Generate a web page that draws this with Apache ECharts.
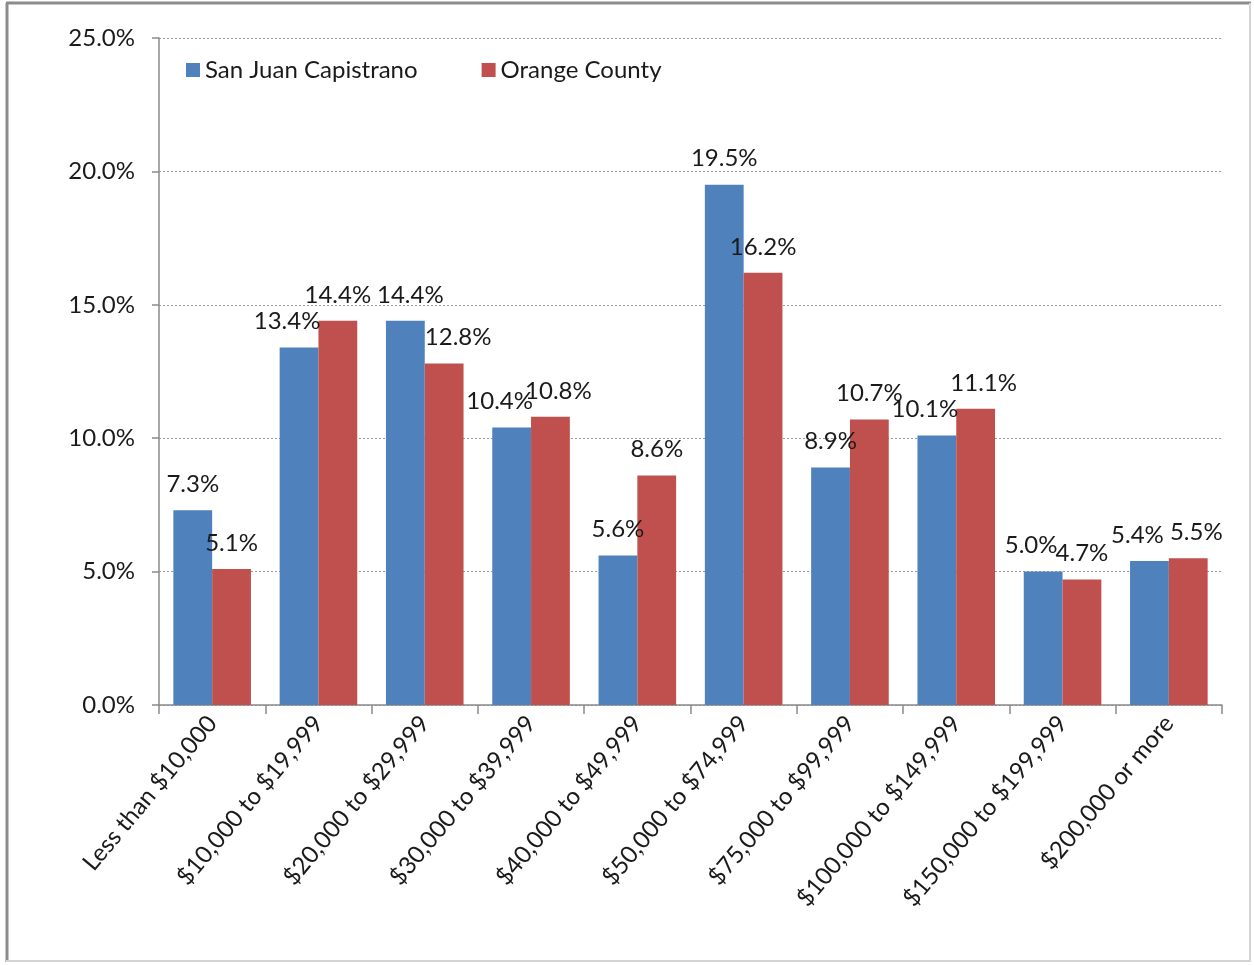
<!DOCTYPE html>
<html>
<head>
<meta charset="utf-8">
<script src="https://cdn.jsdelivr.net/npm/echarts@6/dist/echarts.min.js"></script>
<style>
  html, body { margin: 0; padding: 0; background: #fff; }
  #chart { width: 1254px; height: 965px; }
</style>
</head>
<body>
<div id="chart"></div>
<script>
const categories = ["Less than $10,000", "$10,000 to $19,999", "$20,000 to $29,999", "$30,000 to $39,999", "$40,000 to $49,999", "$50,000 to $74,999", "$75,000 to $99,999", "$100,000 to $149,999", "$150,000 to $199,999", "$200,000 or more"];
const sanJuanCapistrano = [7.3, 13.4, 14.4, 10.4, 5.6, 19.5, 8.9, 10.1, 5.0, 5.4];
const orangeCounty = [5.1, 14.4, 12.8, 10.8, 8.6, 16.2, 10.7, 11.1, 4.7, 5.5];
const seriesNames = ["San Juan Capistrano", "Orange County"];

const FONT = 'Lato, "Liberation Sans", sans-serif';
const FS = 24;
const chart = echarts.init(document.getElementById('chart'), null, { renderer: 'canvas' });

const labelCfg = {
  show: true,
  position: 'top',
  distance: 14,
  fontFamily: FONT,
  fontSize: FS,
  color: '#1a1a1a',
  formatter: p => p.value.toFixed(1) + '%'
};

// Collision-avoidance rule for neighbouring value labels (like Excel's automatic nudging)
const CLOSE = 1.2;
const near = (a, b) => a !== undefined && b !== undefined && Math.abs(a - b) < CLOSE;
function blueShift(i) {
  if (near(sanJuanCapistrano[i], orangeCounty[i])) return -12;
  if (near(orangeCounty[i - 1], sanJuanCapistrano[i])) return 5;
  return 0;
}
function redShift(i) {
  if (near(sanJuanCapistrano[i + 1], orangeCounty[i])) return 0;
  if (near(sanJuanCapistrano[i], orangeCounty[i])) return 8;
  if (blueShift(i) > 0) return 14;
  return 0;
}
function pairLayout(params) {
  const i = params.dataIndex;
  return { dx: params.seriesIndex === 0 ? blueShift(i) : redShift(i) };
}

chart.setOption({
  animation: false,
  backgroundColor: '#ffffff',
  textStyle: { fontFamily: FONT },
  graphic: [
    { type: 'line', shape: { x1: 7, y1: 3, x2: 7, y2: 962 }, style: { stroke: '#8c8c8c', lineWidth: 3 } },
    { type: 'line', shape: { x1: 6, y1: 3, x2: 1251, y2: 3 }, style: { stroke: '#8c8c8c', lineWidth: 3 } },
    { type: 'line', shape: { x1: 1250, y1: 3, x2: 1250, y2: 962 }, style: { stroke: '#d4d4d4', lineWidth: 2 } },
    { type: 'line', shape: { x1: 6, y1: 961, x2: 1251, y2: 961 }, style: { stroke: '#d4d4d4', lineWidth: 2 } }
  ],
  legend: {
    left: 181,
    top: 53,
    itemWidth: 14,
    itemHeight: 14,
    itemGap: 64,
    icon: 'rect',
    textStyle: { fontFamily: FONT, fontSize: FS, color: '#1a1a1a', padding: [0, 0, 0, 0] },
    data: seriesNames
  },
  grid: { left: 159, right: 32, top: 38, bottom: 260, containLabel: false },
  xAxis: {
    type: 'category',
    data: categories,
    boundaryGap: true,
    axisLine: { lineStyle: { color: '#8a8a8a', width: 1.5 } },
    axisTick: { show: true, alignWithLabel: false, length: 9, lineStyle: { color: '#8a8a8a', width: 1.5 } },
    axisLabel: {
      interval: 0,
      rotate: 50,
      margin: 14,
      fontFamily: FONT,
      fontSize: FS,
      color: '#1a1a1a'
    }
  },
  yAxis: {
    type: 'value',
    min: 0,
    max: 25,
    interval: 5,
    axisLine: { show: true, lineStyle: { color: '#8a8a8a', width: 1.5 } },
    axisTick: { show: true, length: 7, lineStyle: { color: '#8a8a8a', width: 1.5 } },
    axisLabel: {
      margin: 24,
      fontFamily: FONT,
      fontSize: FS,
      color: '#1a1a1a',
      formatter: v => v.toFixed(1) + '%'
    },
    splitLine: { show: true, lineStyle: { color: '#9a9a9a', type: [2, 2], width: 1 } }
  },
  series: [
    {
      name: seriesNames[0],
      type: 'bar',
      data: sanJuanCapistrano,
      barGap: '0%',
      barCategoryGap: '27%',
      itemStyle: { color: '#4F81BD' },
      label: labelCfg,
      labelLayout: pairLayout
    },
    {
      name: seriesNames[1],
      type: 'bar',
      data: orangeCounty,
      barGap: '0%',
      barCategoryGap: '27%',
      itemStyle: { color: '#C0504D' },
      label: labelCfg,
      labelLayout: pairLayout
    }
  ]
});
</script>
</body>
</html>
